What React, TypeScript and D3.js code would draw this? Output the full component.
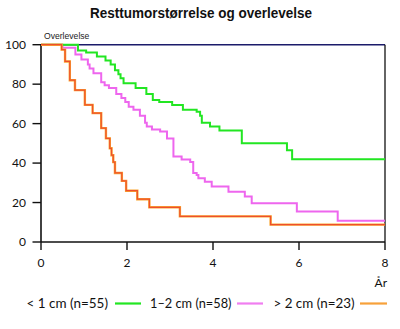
import React from "react";
import * as d3 from "d3";

const title = "Resttumorstørrelse og overlevelse";
const yLabel = "Overlevelse";
const xLabel = "År";
const xTicks = [0, 2, 4, 6, 8];
const yTicks = [0, 20, 40, 60, 80, 100];
const seriesNames = ["< 1 cm (n=55)", "1–2 cm (n=58)", "> 2 cm (n=23)"];

// [years, survival %]
const greenData: [number, number][] = [
  [0, 100], [0.86, 97], [1.05, 96], [1.3, 94], [1.5, 92], [1.62, 90], [1.72, 87],
  [1.8, 85], [1.85, 83], [1.92, 80.5], [2.2, 78], [2.45, 75], [2.6, 72], [2.75, 71],
  [3.05, 69.5], [3.3, 67], [3.62, 66], [3.7, 64], [3.74, 60.5], [3.93, 58.5],
  [4.15, 56.5], [4.67, 50], [5.72, 46.5], [5.84, 42], [8, 42],
];
const pinkData: [number, number][] = [
  [0, 100], [0.5, 98.5], [0.8, 95], [0.94, 92.5], [1.09, 90], [1.13, 88], [1.22, 85.5],
  [1.4, 81], [1.48, 79.5], [1.58, 78], [1.75, 75], [1.87, 73], [1.96, 71], [2.04, 68.5],
  [2.15, 67], [2.3, 64], [2.42, 60.5], [2.46, 58.5], [2.58, 57], [2.77, 56], [2.93, 52.5],
  [3.08, 43.3], [3.27, 41.8], [3.47, 40.5], [3.54, 35], [3.62, 34], [3.66, 32.3],
  [3.81, 30.6], [3.97, 28.1], [4.36, 25.5], [4.74, 23], [4.9, 19.6], [5.95, 15.4],
  [6.9, 10.8], [8, 10.8],
];
const orangeData: [number, number][] = [
  [0, 100], [0.48, 97.5], [0.56, 91.5], [0.67, 82], [0.79, 77], [1.02, 69.5],
  [1.2, 65.3], [1.4, 57.7], [1.51, 52.5], [1.6, 47.5], [1.64, 44], [1.68, 40.5],
  [1.72, 35], [1.88, 31], [1.98, 26], [2.24, 21.7], [2.52, 17.6], [3.23, 13],
  [5.34, 8.8], [8, 8.8],
];

const W = 400, H = 329;
const x = d3.scaleLinear().domain([0, 8]).range([41, 385]);
const y = d3.scaleLinear().domain([0, 100]).range([242, 44.7]);
const line = d3.line<[number, number]>().x(d => x(d[0])).y(d => y(d[1])).curve(d3.curveStepAfter);

const tickFont = "Lato, 'Open Sans', sans-serif";

export default function App() {
  const legendItems = [
    { name: seriesNames[0], color: "#22e622", tx: 26.5, w: 81.5, lx: [115, 141] },
    { name: seriesNames[1], color: "#f07ef0", tx: 150, w: 81.5, lx: [237, 263] },
    { name: seriesNames[2], color: "#f7a13a", tx: 273.5, w: 81, lx: [360, 387] },
  ];
  return (
    <svg width={W} height={H} style={{ position: "absolute", left: 0, top: 0, background: "#fff" }}>
      <text x={90} y={18} textLength={222} lengthAdjust="spacingAndGlyphs" fontFamily="'Liberation Sans', Arial, sans-serif" fontWeight="bold" fontSize={14.5} fill="#111">{title}</text>
      <text x={44} y={39} fontFamily="'Liberation Sans', Arial, sans-serif" fontSize={8.6} fill="#222">{yLabel}</text>

      {/* frame top and right */}
      <line x1={x(0)} x2={x(8)} y1={y(100)} y2={y(100)} stroke="#1b1b6a" strokeWidth={1.5} />
      <line x1={x(8)} x2={x(8)} y1={y(100)} y2={y(0)} stroke="#111" strokeWidth={1.3} />

      {/* y axis */}
      <line x1={x(0)} x2={x(0)} y1={y(100)} y2={y(0)} stroke="#111" strokeWidth={1.6} />
      {yTicks.map(t => (
        <g key={"y" + t}>
          <line x1={32.5} x2={x(0)} y1={y(t)} y2={y(t)} stroke="#111" strokeWidth={1.4} />
          <text x={26} y={y(t) + 4.2} textAnchor="end" fontFamily={tickFont} fontSize={12} fill="#111">{t}</text>
        </g>
      ))}

      {/* x axis */}
      <line x1={x(0)} x2={x(8)} y1={y(0)} y2={y(0)} stroke="#111" strokeWidth={1.6} />
      {xTicks.map(t => (
        <g key={"x" + t}>
          <line x1={x(t)} x2={x(t)} y1={y(0)} y2={250} stroke="#111" strokeWidth={1.4} />
          <text x={x(t)} y={267} textAnchor="middle" fontFamily={tickFont} fontSize={12} fill="#111">{t}</text>
        </g>
      ))}
      <text x={387} y={287} textAnchor="end" fontFamily={tickFont} fontSize={12} fill="#111">{xLabel}</text>

      {/* curves */}
      <path d={line(pinkData) || ""} fill="none" stroke="#ee66ee" strokeWidth={2} />
      <path d={line(greenData) || ""} fill="none" stroke="#22e622" strokeWidth={2} />
      <path d={line(orangeData) || ""} fill="none" stroke="#f9a531" strokeWidth={2.4} />
      <path d={line(orangeData) || ""} fill="none" stroke="#ee4f2c" strokeWidth={1.2} />

      {/* legend */}
      {legendItems.map(it => (
        <g key={it.name}>
          <text x={it.tx} y={307.5} textLength={it.w} lengthAdjust="spacingAndGlyphs" fontFamily={tickFont} fontSize={13} fill="#111">{it.name}</text>
          <line x1={it.lx[0]} x2={it.lx[1]} y1={303.5} y2={303.5} stroke={it.color} strokeWidth={2.2} />
        </g>
      ))}
    </svg>
  );
}
